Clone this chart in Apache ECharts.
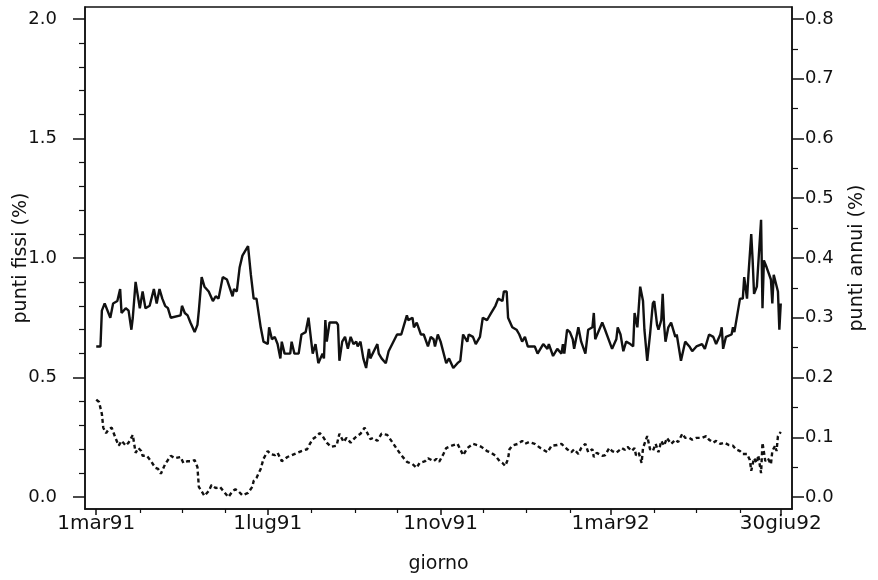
<!DOCTYPE html>
<html>
<head>
<meta charset="utf-8">
<script src="https://cdn.jsdelivr.net/npm/echarts@6/dist/echarts.min.js"></script>
<style>html,body{margin:0;padding:0;background:#fff}#c{width:878px;height:580px}</style>
</head>
<body>
<div id="c"></div>
<script>
// Days counted from 1 Mar 1991
var xTickDays = [0, 122, 245, 366, 487];
var xTickLabels = ['1mar91', '1lug91', '1nov91', '1mar92', '30giu92'];
var monthDays = [31, 61, 92, 153, 184, 214, 275, 306, 337, 397, 427, 458];
var leftMajor = [0, 0.5, 1, 1.5, 2];
var leftMinor = [0.1,0.2,0.3,0.4,0.6,0.7,0.8,0.9,1.1,1.2,1.3,1.4,1.6,1.7,1.8,1.9];
var rightMajor = [0, 0.1, 0.2, 0.3, 0.4, 0.5, 0.6, 0.7, 0.8];
var rightMinor = [0.05, 0.15, 0.25, 0.35, 0.45, 0.55, 0.65, 0.75];

// punti fissi (%) - left axis
var fissiDays = [0,3,4,6,10,12,15,17,18,21,23,25,26,28,31,33,35,38,41,43,45,47,49,51,53,60,61,63,65,67,70,72,73,75,77,80,83,85,87,90,93,97,98,100,102,104,108,110,112,114,117,119,122,123,125,127,129,131,132,134,138,139,141,144,146,149,151,154,156,158,161,162,163,164,166,171,172,173,175,177,179,181,183,185,186,188,190,192,194,195,200,201,203,206,208,214,217,219,221,222,225,226,228,231,233,236,238,240,241,243,245,249,251,254,257,259,261,264,265,268,270,273,275,278,279,281,284,286,289,290,292,293,296,299,301,303,305,307,312,314,318,321,322,325,328,331,332,333,335,337,339,340,343,345,348,350,353,354,355,360,362,367,370,371,373,375,377,380,382,383,385,387,389,390,392,394,396,397,399,400,402,403,404,405,407,409,412,413,416,419,422,424,427,431,433,436,439,441,444,445,446,448,452,453,454,456,458,460,461,463,464,466,467,468,470,473,474,475,477,478,480,481,482,483,485,486,487];
var fissiValues = [0.63,0.63,0.78,0.81,0.75,0.81,0.82,0.87,0.77,0.79,0.78,0.70,0.75,0.90,0.79,0.86,0.79,0.80,0.87,0.81,0.87,0.83,0.80,0.79,0.75,0.76,0.80,0.77,0.76,0.73,0.69,0.72,0.78,0.92,0.88,0.86,0.82,0.84,0.83,0.92,0.91,0.84,0.87,0.86,0.96,1.01,1.05,0.93,0.83,0.83,0.71,0.65,0.64,0.71,0.66,0.67,0.64,0.58,0.65,0.60,0.60,0.65,0.60,0.60,0.68,0.69,0.75,0.60,0.64,0.56,0.60,0.58,0.74,0.65,0.73,0.73,0.72,0.57,0.65,0.67,0.62,0.67,0.64,0.65,0.63,0.65,0.58,0.54,0.62,0.58,0.64,0.60,0.58,0.56,0.61,0.68,0.68,0.72,0.76,0.74,0.75,0.71,0.73,0.68,0.68,0.63,0.67,0.66,0.63,0.68,0.65,0.56,0.58,0.54,0.56,0.57,0.68,0.65,0.68,0.67,0.64,0.67,0.75,0.74,0.75,0.77,0.80,0.83,0.82,0.86,0.86,0.75,0.71,0.70,0.68,0.65,0.67,0.63,0.63,0.60,0.64,0.62,0.64,0.59,0.62,0.60,0.64,0.60,0.70,0.69,0.66,0.62,0.71,0.65,0.60,0.70,0.71,0.77,0.66,0.73,0.70,0.62,0.66,0.71,0.68,0.61,0.65,0.64,0.63,0.77,0.71,0.88,0.82,0.70,0.57,0.68,0.81,0.82,0.72,0.70,0.74,0.85,0.72,0.65,0.71,0.73,0.67,0.68,0.57,0.65,0.63,0.61,0.63,0.64,0.62,0.68,0.67,0.64,0.68,0.71,0.62,0.67,0.68,0.71,0.69,0.76,0.83,0.83,0.92,0.83,0.93,1.10,0.99,0.85,0.88,1.16,0.79,0.99,0.96,0.96,0.91,0.81,0.93,0.93,0.86,0.70,0.81];

// punti annui (%) - right axis
var annuiDays = [0,2,4,5,7,9,11,14,16,18,21,23,26,28,30,32,33,36,39,42,44,46,49,53,56,60,62,65,68,70,72,73,77,80,82,85,88,94,97,99,101,104,108,111,112,114,117,119,122,124,127,129,132,136,139,143,146,150,152,154,157,159,161,164,167,171,173,176,178,181,184,188,191,195,197,200,203,207,210,214,217,221,225,228,230,234,236,240,242,244,247,249,253,257,259,261,264,268,271,274,278,281,284,287,289,291,293,294,296,300,303,305,308,312,316,321,324,328,331,335,338,340,343,345,348,350,353,354,356,360,362,365,367,370,374,376,378,381,383,384,386,388,389,392,394,396,398,400,402,404,406,409,412,414,417,419,422,424,427,431,434,436,439,441,444,447,450,453,455,458,460,463,465,466,468,470,471,473,474,476,478,480,481,483,484,485,487];
var annuiValues = [0.163,0.159,0.139,0.116,0.107,0.114,0.116,0.097,0.086,0.094,0.086,0.091,0.104,0.074,0.082,0.077,0.069,0.069,0.060,0.049,0.047,0.039,0.055,0.069,0.065,0.067,0.057,0.060,0.060,0.062,0.050,0.017,0.002,0.010,0.020,0.015,0.017,0.000,0.010,0.013,0.010,0.003,0.007,0.017,0.027,0.032,0.047,0.064,0.077,0.072,0.070,0.074,0.060,0.067,0.070,0.074,0.077,0.080,0.089,0.097,0.102,0.107,0.102,0.091,0.084,0.086,0.106,0.092,0.099,0.091,0.099,0.106,0.116,0.097,0.099,0.094,0.106,0.104,0.094,0.080,0.070,0.059,0.055,0.049,0.057,0.060,0.065,0.060,0.064,0.059,0.072,0.082,0.086,0.089,0.080,0.070,0.082,0.089,0.087,0.084,0.077,0.074,0.069,0.060,0.057,0.052,0.064,0.080,0.086,0.089,0.094,0.089,0.092,0.089,0.082,0.075,0.086,0.087,0.089,0.080,0.075,0.080,0.072,0.082,0.089,0.075,0.080,0.067,0.074,0.069,0.070,0.082,0.077,0.074,0.082,0.079,0.084,0.077,0.082,0.070,0.074,0.057,0.082,0.102,0.080,0.077,0.089,0.075,0.094,0.086,0.099,0.089,0.096,0.092,0.106,0.099,0.099,0.096,0.099,0.099,0.102,0.096,0.091,0.094,0.089,0.091,0.087,0.086,0.080,0.077,0.072,0.072,0.062,0.044,0.065,0.057,0.070,0.040,0.091,0.060,0.064,0.055,0.077,0.086,0.077,0.102,0.109];

function pairs(xs, ys) { return xs.map(function (x, i) { return [x, ys[i]]; }); }

var FONT = 'DejaVu Sans';
var INK = '#111';
var chart = echarts.init(document.getElementById('c'), null, { renderer: 'canvas' });
var xLabelStyle = { color: INK, fontFamily: FONT, fontSize: 20 };
var yLabelStyle = { color: INK, fontFamily: FONT, fontSize: 18 };
var nameStyle = { color: INK, fontFamily: FONT, fontSize: 19 };

chart.setOption({
  animation: false,
  backgroundColor: '#fff',
  grid: { left: 85, right: 86, top: 7, bottom: 71, show: true, borderColor: INK, borderWidth: 1.5, backgroundColor: 'transparent' },
  xAxis: [
    {
      type: 'value', min: -8, max: 495, position: 'bottom',
      name: 'giorno', nameLocation: 'middle', nameGap: 46, nameMoveOverlap: false,
      nameTextStyle: nameStyle,
      axisLine: { show: true, onZero: false, lineStyle: { color: INK, width: 1.5 } },
      axisTick: { show: true, inside: false, length: 6, customValues: xTickDays, lineStyle: { color: INK, width: 1.5 } },
      axisLabel: Object.assign({ show: true, margin: 5, customValues: xTickDays,
        formatter: function (v) { var i = xTickDays.indexOf(v); return i >= 0 ? xTickLabels[i] : ''; } }, xLabelStyle),
      splitLine: { show: false }
    },
    {
      type: 'value', min: -8, max: 495, position: 'bottom',
      axisLine: { show: false, onZero: false },
      axisTick: { show: true, inside: false, length: 4, customValues: monthDays, lineStyle: { color: INK, width: 1.2 } },
      axisLabel: { show: false },
      splitLine: { show: false }
    }
  ],
  yAxis: [
    {
      type: 'value', min: -0.05, max: 2.05, position: 'left',
      name: 'punti fissi (%)', nameLocation: 'middle', nameGap: 54, nameRotate: 90, nameMoveOverlap: false,
      nameTextStyle: nameStyle,
      axisLine: { show: true, onZero: false, lineStyle: { color: INK, width: 1.5 } },
      axisTick: { show: true, inside: false, length: 12, customValues: leftMajor, lineStyle: { color: INK, width: 1.5 } },
      axisLabel: Object.assign({ show: true, margin: 28, customValues: leftMajor,
        formatter: function (v) { return v.toFixed(1); } }, yLabelStyle),
      splitLine: { show: false }
    },
    {
      type: 'value', min: -0.05, max: 2.05, position: 'left',
      axisLine: { show: false, onZero: false },
      axisTick: { show: true, inside: false, length: 6, customValues: leftMinor, lineStyle: { color: INK, width: 1.2 } },
      axisLabel: { show: false },
      splitLine: { show: false }
    },
    {
      type: 'value', min: -0.02, max: 0.82, position: 'right',
      name: 'punti annui (%)', nameLocation: 'middle', nameGap: 56, nameRotate: 90, nameMoveOverlap: false,
      nameTextStyle: nameStyle,
      axisLine: { show: true, onZero: false, lineStyle: { color: INK, width: 1.5 } },
      axisTick: { show: true, inside: false, length: 12, customValues: rightMajor, lineStyle: { color: INK, width: 1.5 } },
      axisLabel: Object.assign({ show: true, margin: 13, customValues: rightMajor,
        formatter: function (v) { return v.toFixed(1); } }, yLabelStyle),
      splitLine: { show: false }
    },
    {
      type: 'value', min: -0.02, max: 0.82, position: 'right',
      axisLine: { show: false, onZero: false },
      axisTick: { show: true, inside: false, length: 6, customValues: rightMinor, lineStyle: { color: INK, width: 1.2 } },
      axisLabel: { show: false },
      splitLine: { show: false }
    }
  ],
  series: [
    {
      name: 'punti fissi', type: 'line', xAxisIndex: 0, yAxisIndex: 0,
      data: pairs(fissiDays, fissiValues), showSymbol: false, symbol: 'none',
      lineStyle: { color: INK, width: 2.4, type: 'solid' }
    },
    {
      name: 'punti annui', type: 'line', xAxisIndex: 0, yAxisIndex: 2,
      data: pairs(annuiDays, annuiValues), showSymbol: false, symbol: 'none',
      lineStyle: { color: INK, width: 2.4, type: [4, 3] }
    }
  ]
});
</script>
</body>
</html>
